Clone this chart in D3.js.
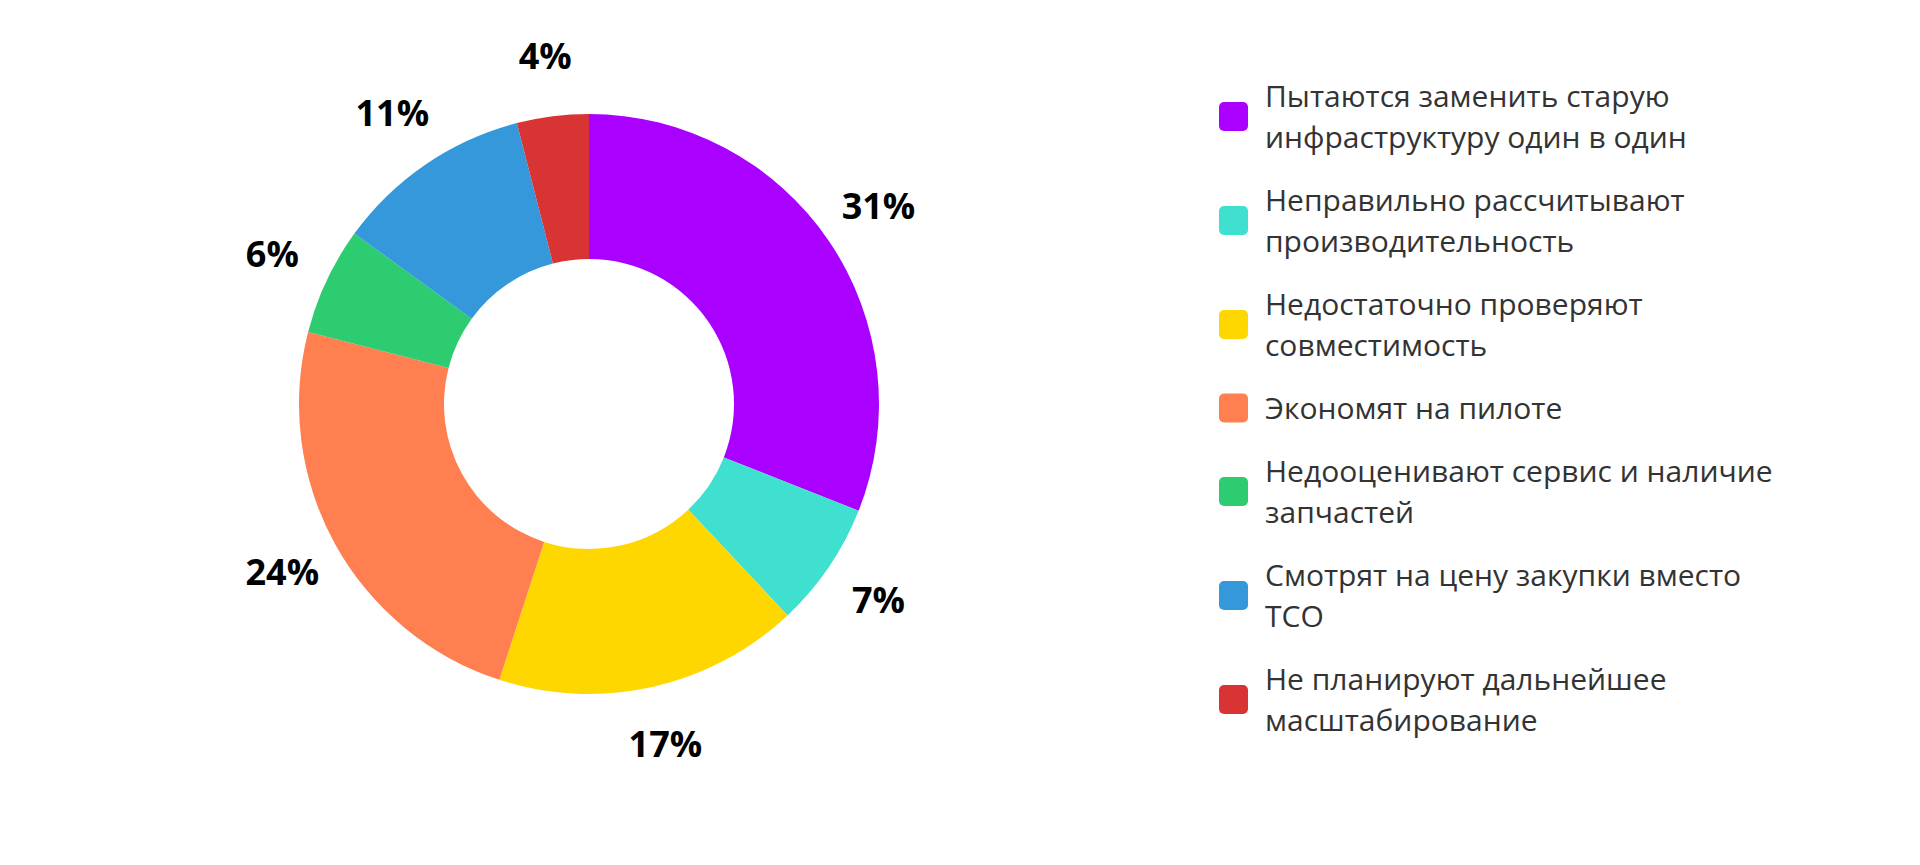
<!DOCTYPE html>
<html>
<head>
<meta charset="utf-8">
<script src="https://cdn.jsdelivr.net/npm/d3@7"></script>
<style>
  html, body { margin: 0; padding: 0; background: #fff; }
  svg { display: block; }
</style>
</head>
<body>
<div id="chart"></div>
<script>
const width = 1920;
const height = 865;

// categories (legend order = slice order, clockwise from 12 o'clock)
const categories = [
  "Пытаются заменить старую\nинфраструктуру один в один",
  "Неправильно рассчитывают\nпроизводительность",
  "Недостаточно проверяют\nсовместимость",
  "Экономят на пилоте",
  "Недооценивают сервис и наличие\nзапчастей",
  "Смотрят на цену закупки вместо\nТСО",
  "Не планируют дальнейшее\nмасштабирование"
];
const values = [31, 7, 17, 24, 6, 11, 4];
const colors = ["#AA00FF", "#40E0D0", "#FFD700", "#FF7F50", "#2ECC71", "#3498DB", "#D93434"];

const data = categories.map((c, i) => ({ name: c, value: values[i], color: colors[i] }));

const cx = 589, cy = 404;
const outerR = 290, innerR = 145, labelR = 350;

const svg = d3.select("#chart").append("svg")
  .attr("width", width)
  .attr("height", height);

const pie = d3.pie().value(d => d.value).sort(null);
const arc = d3.arc().innerRadius(innerR).outerRadius(outerR);
const labelArc = d3.arc().innerRadius(labelR).outerRadius(labelR);

const g = svg.append("g").attr("transform", `translate(${cx},${cy})`);
const arcs = pie(data);

g.selectAll("path")
  .data(arcs)
  .join("path")
  .attr("d", arc)
  .attr("fill", d => d.data.color);

g.selectAll("text.pct")
  .data(arcs)
  .join("text")
  .attr("class", "pct")
  .attr("transform", d => `translate(${labelArc.centroid(d)})`)
  .attr("text-anchor", "middle")
  .attr("dy", "0.33em")
  .style("font", "bold 36px 'Open Sans', sans-serif")
  .style("fill", "#000")
  .text(d => d.data.value + "%");

// legend
const legendX = 1219, legendCy = 408;
const lineH = 41, gap = 22, sw = 29;
const items = data.map(d => ({ ...d, lines: d.name.split("\n") }));
const totalH = d3.sum(items, d => d.lines.length * lineH) + gap * (items.length - 1);
let yPos = legendCy - totalH / 2;

const legend = svg.append("g");
items.forEach(d => {
  const h = d.lines.length * lineH;
  const row = legend.append("g").attr("transform", `translate(${legendX},${yPos})`);
  row.append("rect")
    .attr("x", 0)
    .attr("y", h / 2 - sw / 2)
    .attr("width", sw)
    .attr("height", sw)
    .attr("rx", 5)
    .attr("fill", d.color);
  const t = row.append("text")
    .style("font", "500 30px 'Open Sans', sans-serif")
    .style("fill", "#333");
  d.lines.forEach((ln, i) => {
    t.append("tspan")
      .attr("x", 46)
      .attr("y", i * lineH + lineH / 2)
      .attr("dy", "0.35em")
      .text(ln);
  });
  yPos += h + gap;
});
</script>
</body>
</html>
